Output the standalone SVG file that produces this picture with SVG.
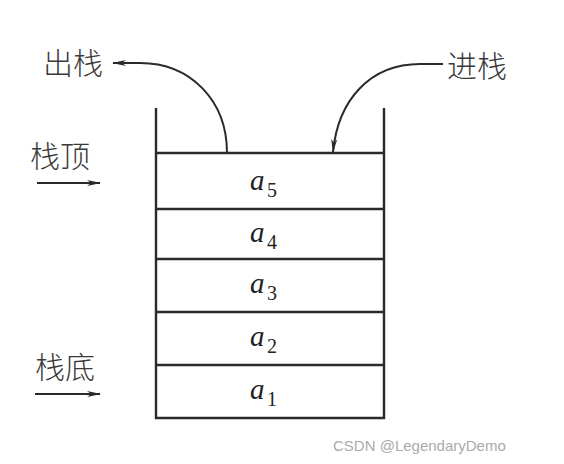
<svg xmlns="http://www.w3.org/2000/svg" width="564" height="464" viewBox="0 0 564 464">
<defs>
<style>
.ln{stroke:#2a2a2a;stroke-width:2.4;fill:none}
.cv{stroke:#2a2a2a;stroke-width:2;fill:none}
.cn{font-family:"Noto Sans CJK SC","Noto Sans",sans-serif;font-size:30px;font-weight:300;fill:#3a3a3a}
.a{font-family:"Liberation Serif",serif;font-style:italic;font-size:29px;fill:#222}
.s{font-family:"Liberation Serif",serif;font-size:20px;fill:#222}
</style>
<marker id="ah" viewBox="0 0 14 8" refX="13" refY="4" markerWidth="14" markerHeight="8" markerUnits="userSpaceOnUse" orient="auto">
<path d="M0,1 L14,4 L0,7 L4,4 Z" fill="#2a2a2a"/>
</marker>
</defs>
<rect width="564" height="464" fill="#fff"/>
<g id="stack">
<path class="ln" d="M156,108 V418 H384 V108"/>
<line class="ln" x1="156" y1="153" x2="384" y2="153"/>
</g>
<g id="a5"><line class="ln" x1="156" y1="209" x2="384" y2="209"/><text x="250" y="190" class="a">a</text><text x="267" y="197" class="s">5</text></g>
<g id="a4"><line class="ln" x1="156" y1="259" x2="384" y2="259"/><text x="250" y="242" class="a">a</text><text x="267" y="249" class="s">4</text></g>
<g id="a3"><line class="ln" x1="156" y1="312" x2="384" y2="312"/><text x="250" y="293" class="a">a</text><text x="267" y="300" class="s">3</text></g>
<g id="a2"><line class="ln" x1="156" y1="365" x2="384" y2="365"/><text x="250" y="346" class="a">a</text><text x="267" y="353" class="s">2</text></g>
<g id="a1"><text x="250" y="399" class="a">a</text><text x="267" y="406" class="s">1</text></g>
<g id="labels">
<text x="43" y="74" class="cn">出栈</text>
<text x="447" y="77" class="cn">进栈</text>
<text x="30" y="167" class="cn">栈顶</text>
<text x="35" y="378" class="cn">栈底</text>
</g>
<g id="connectors">
<path class="cv" d="M227,153 C227,100 190,63 140,63 L113,63" marker-end="url(#ah)"/>
<path class="cv" d="M443,64 L420,64 C370,64 338,100 333,152" marker-end="url(#ah)"/>
<line class="cv" x1="37" y1="183" x2="100" y2="183" marker-end="url(#ah)"/>
<line class="cv" x1="35" y1="394" x2="100" y2="394" marker-end="url(#ah)"/>
</g>
<text x="333" y="451" font-family="Liberation Sans,sans-serif" font-size="15" fill="#aaa">CSDN @LegendaryDemo</text>
</svg>
